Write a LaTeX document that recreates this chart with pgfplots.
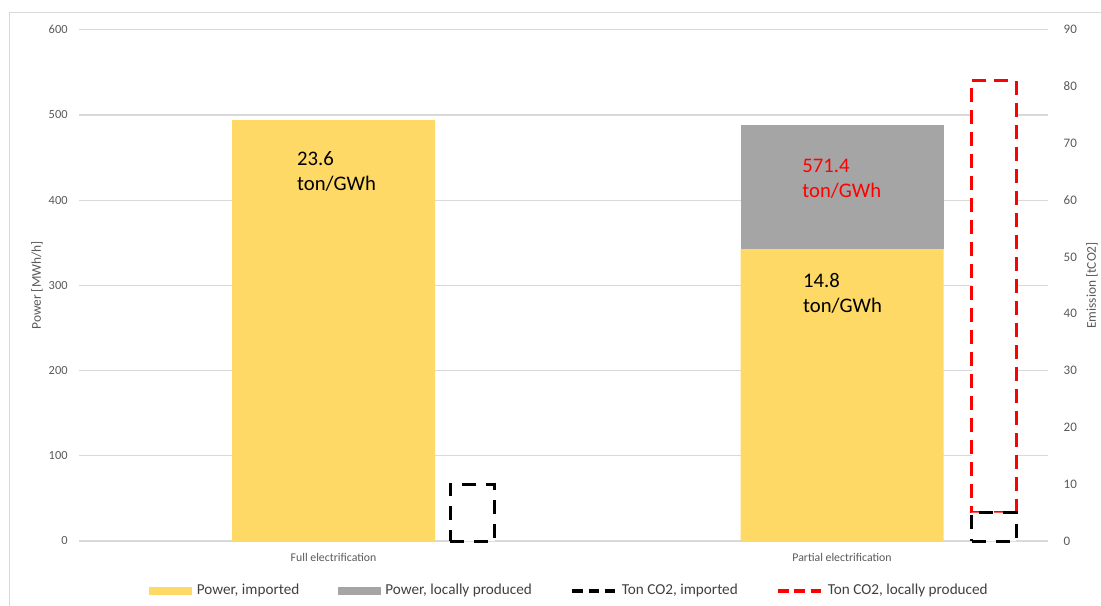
\documentclass[border=0pt]{standalone}
\usepackage{pgfplots}
\pgfplotsset{compat=1.18}
\usepackage{fontspec}
\setmainfont{Carlito}
\definecolor{yellowc}{HTML}{FFD966}
\definecolor{grayc}{HTML}{A5A5A5}
\definecolor{gridc}{HTML}{D9D9D9}
\definecolor{tickc}{HTML}{595959}
\definecolor{redc}{HTML}{FF0000}
\definecolor{legc}{HTML}{404040}
\begin{document}
\begin{tikzpicture}
\useasboundingbox (0,0) rectangle (550.5pt,302.5pt);
\draw[gridc, line width=0.6pt] (4.65pt,-1pt) -- (4.65pt,296.15pt) -- (552pt,296.15pt);
\pgfplotsset{
  base/.style={
    scale only axis, width=484.5pt, height=255.6pt,
    at={(39.5pt,32pt)}, anchor=south west,
    xmin=79, xmax=1048, enlargelimits=false,
    axis line style={draw=none}, tick style={draw=none}, major tick length=0pt,
    /pgf/number format/assume math mode=true,
    clip=false,
  }
}
\begin{axis}[base,
  ymin=0, ymax=600, ytick={0,100,...,600},
  ymajorgrids, grid style={gridc, line width=0.6pt},
  yticklabel style={font=\fontsize{6.2pt}{7pt}\selectfont, text=tickc, anchor=east, inner xsep=0pt, xshift=-5.5pt},
  xtick={333.5,842}, xticklabels={Full electrification, Partial electrification},
  xticklabel style={font=\fontsize{5.9pt}{7pt}\selectfont, text=tickc, anchor=center, yshift=-8.25pt},
  ylabel={Power [MWh/h]},
  ylabel style={at={(axis description cs:-0.0433,0.5)}, anchor=center, font=\fontsize{6.7pt}{8pt}\selectfont, text=tickc},
  ybar stacked, bar width=203,
  legend columns=4,
  legend style={draw=none, fill=none, at={(axis description cs:0.5052,-0.0978)}, anchor=center,
    font=\fontsize{7.6pt}{9pt}\selectfont, text=legc,
    nodes={inner xsep=0pt, inner ysep=1pt},
    /tikz/every odd column/.append style={column sep=2.25pt},
    /tikz/every even column/.append style={column sep=19.3pt}},
]
\addplot[fill=yellowc, draw=none, legend image code/.code={\fill[yellowc] (0pt,-2pt) rectangle (21.5pt,2pt);}]
  coordinates {(333.5,494) (842,342.5)};
\addlegendentry{Power, imported}
\addplot[fill=grayc, draw=none, legend image code/.code={\fill[grayc] (0pt,-2pt) rectangle (21.5pt,2pt);}]
  coordinates {(333.5,0) (842,146)};
\addlegendentry{Power, locally produced}
\addlegendimage{legend image code/.code={\draw[black, line width=2pt, dash pattern=on 5.4pt off 2.65pt] (0pt,0pt) -- (21.5pt,0pt);}}
\addlegendentry{Ton CO2, imported}
\addlegendimage{legend image code/.code={\draw[redc, line width=2pt, dash pattern=on 5.4pt off 2.65pt] (0pt,0pt) -- (21.5pt,0pt);}}
\addlegendentry{Ton CO2, locally produced}
\end{axis}
\begin{axis}[base,
  ymin=0, ymax=90, ytick={0,10,...,90}, yticklabel pos=right,
  yticklabel style={font=\fontsize{6.5pt}{7pt}\selectfont, text=tickc, anchor=west, inner xsep=0pt, xshift=7.65pt},
  xtick=\empty,
  ylabel={Emission [tCO2]},
  ylabel style={at={(axis description cs:1.0454,0.5)}, anchor=center, font=\fontsize{6.7pt}{8pt}\selectfont, text=tickc},
  ybar stacked, bar width=44.5,
]
\addplot[fill=white, draw=black, line width=1.5pt, dash pattern=on 7pt off 5pt]
  coordinates {(472.7,10) (993.8,5)};
\addplot[fill=white, draw=redc, line width=1.5pt, dash pattern=on 7pt off 4pt]
  coordinates {(472.7,0) (993.8,76)};
% annotation labels (y in the right axis units: left value x 0.15)
\node[anchor=north west, inner sep=0pt, align=left, font=\fontsize{10.35pt}{12.5pt}\selectfont] at (axis cs:296.7,68.66) {23.6\\ton/GWh};
\node[anchor=north west, inner sep=0pt, align=left, text=redc, font=\fontsize{10.35pt}{12.5pt}\selectfont] at (axis cs:802,67.38) {571.4\\ton/GWh};
\node[anchor=north west, inner sep=0pt, align=left, font=\fontsize{10.35pt}{12.5pt}\selectfont] at (axis cs:802.7,47.25) {14.8\\ton/GWh};
\end{axis}
\end{tikzpicture}
\end{document}
